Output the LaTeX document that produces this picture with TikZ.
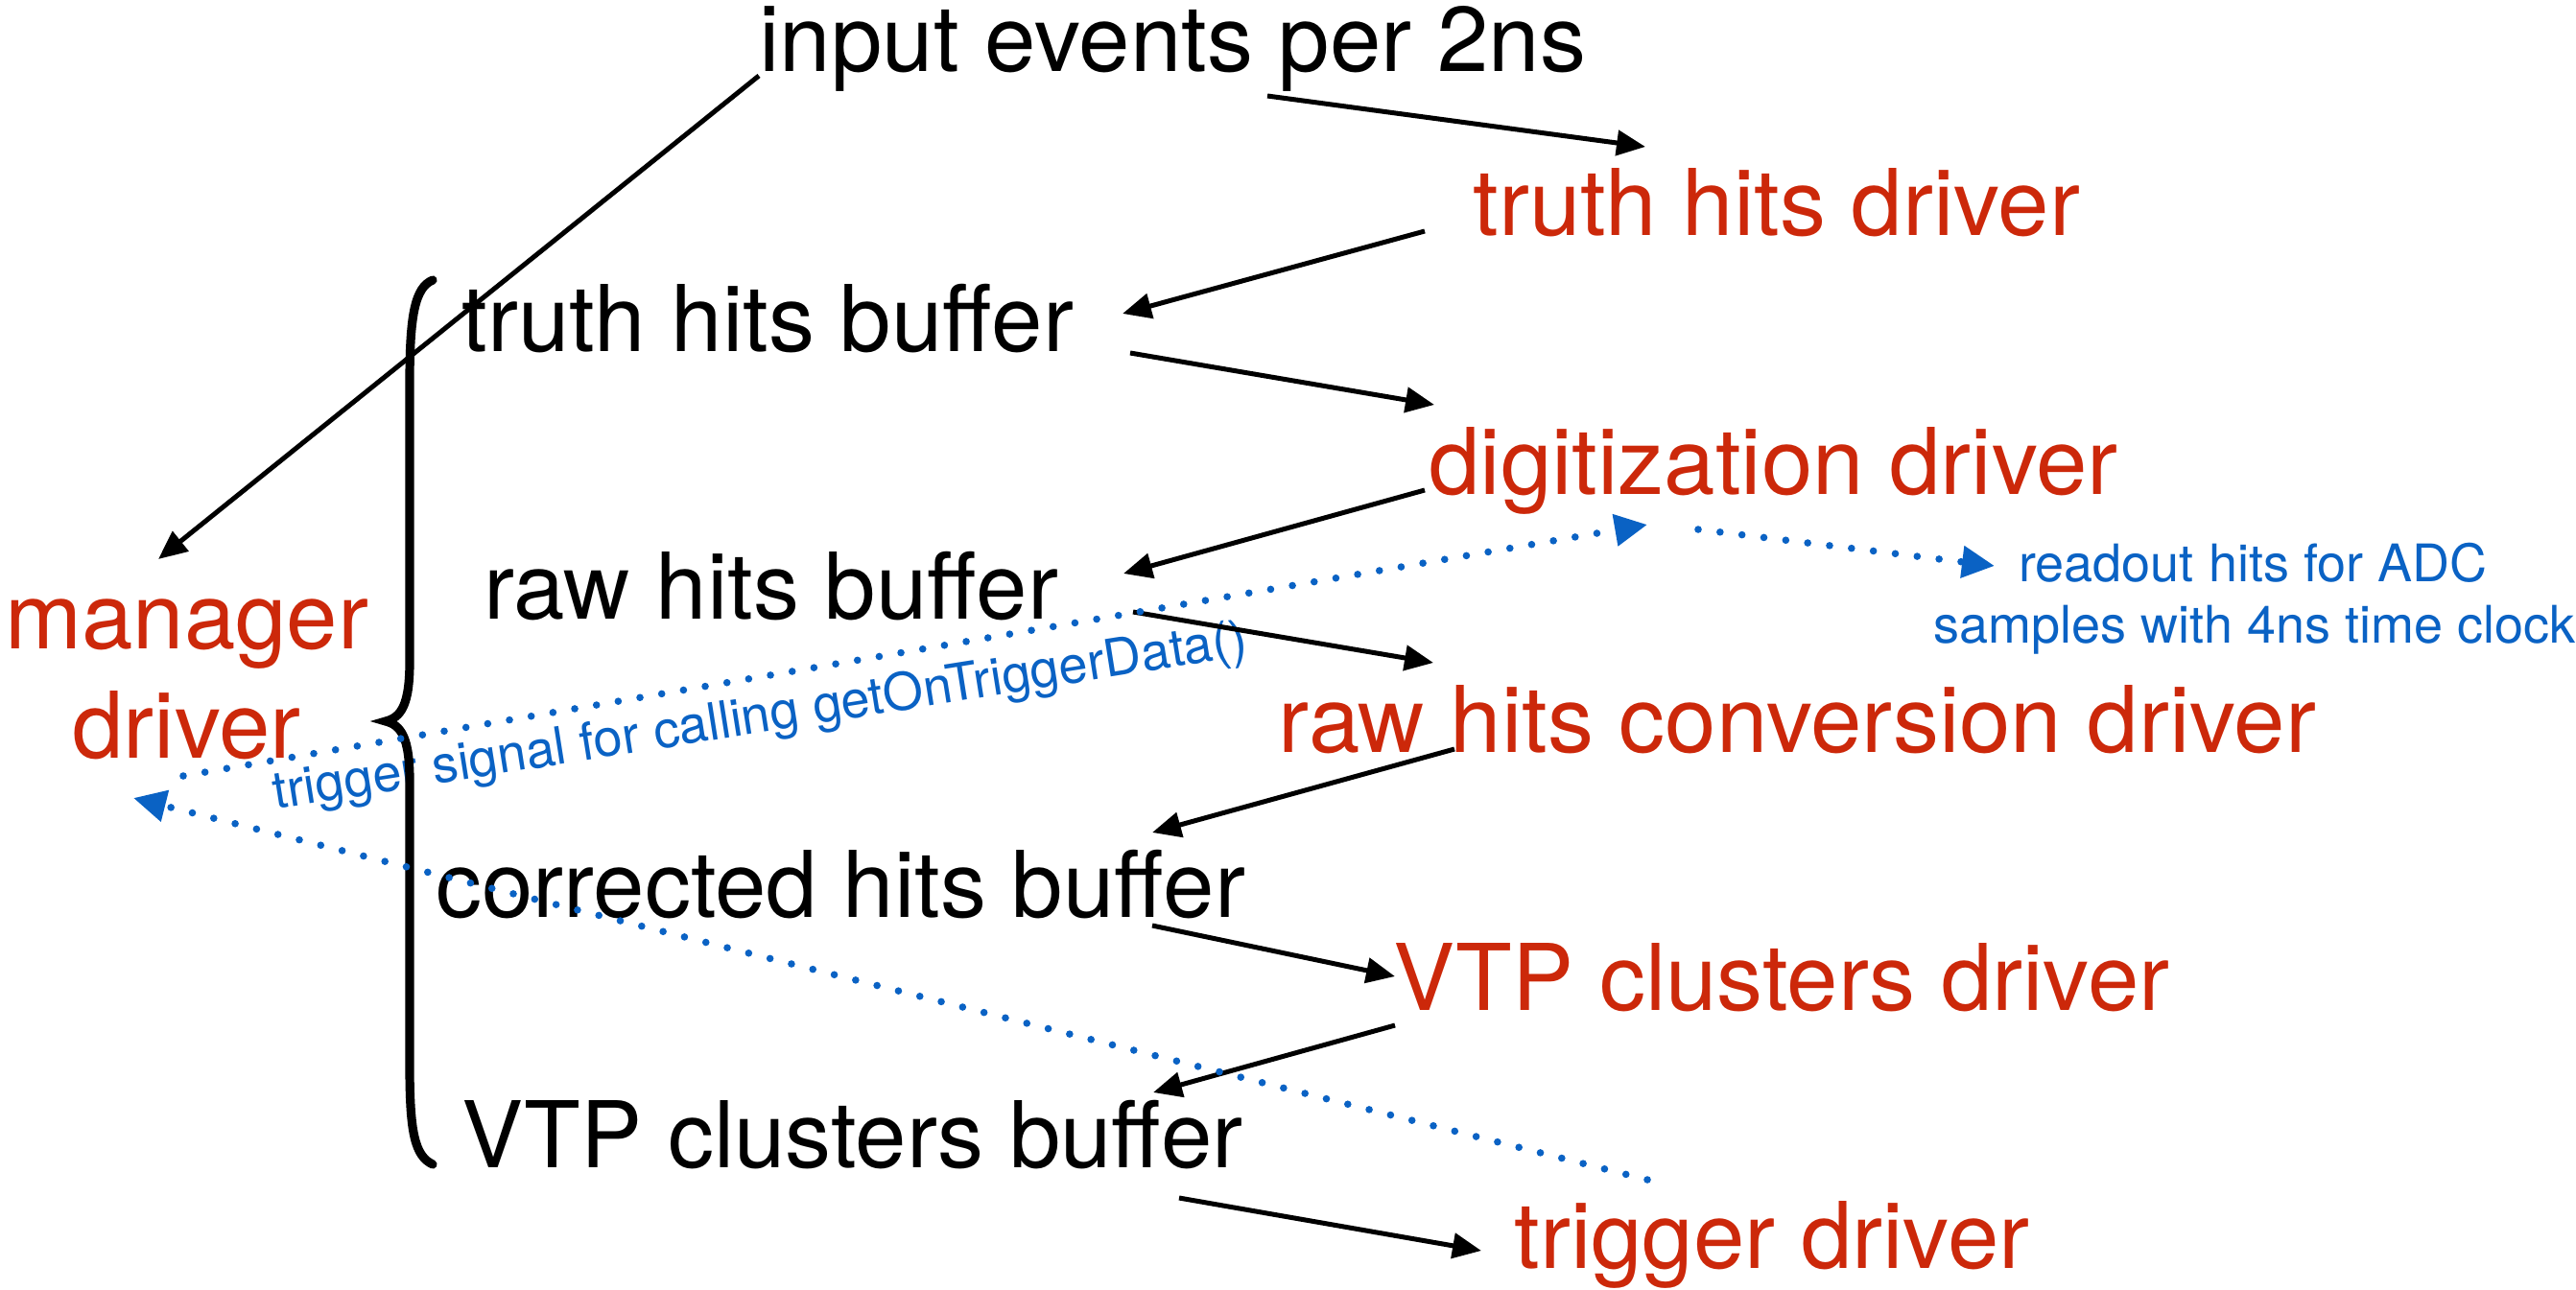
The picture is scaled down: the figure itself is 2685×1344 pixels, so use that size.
\documentclass[tikz,border=0pt]{standalone}
\usepackage{fontspec}
\setmainfont{TeX Gyre Heros}
\usetikzlibrary{arrows.meta}
\definecolor{dred}{RGB}{204,40,10}
\definecolor{dblue}{RGB}{10,98,196}
\tikzset{
  lbl/.style={inner sep=0pt, anchor=base west, font=\fontsize{48}{58}\selectfont},
  blk/.style={lbl, text=black},
  drv/.style={lbl, text=dred},
  note/.style={inner sep=0pt, anchor=base west, text=dblue, font=\fontsize{27}{32}\selectfont},
  arr/.style={line width=2.5pt, -{Triangle[length=15pt,width=13pt]}},
  sig/.style={dblue, line width=3.8pt, line cap=round, dash pattern=on 0pt off 11.5pt, -{Triangle[length=17pt,width=16pt]}},
  bracestyle/.style={line width=4.6pt, line cap=round}
}
\begin{document}
\begin{tikzpicture}[x=0.5pt,y=-0.5pt]
\useasboundingbox (0,0) rectangle (2685,1344);
% nodes
\node[blk] (in)  at (791,74)   {input events per 2ns};
\node[drv] (thd) at (1535,245) {truth hits driver};
\node[blk] (thb) at (481,366)  {truth hits buffer};
\node[drv] (dig) at (1489,515) {digitization driver};
\node[blk] (rhb) at (504,645)  {raw hits buffer};
\node[drv] (rhc) at (1332,784) {raw hits conversion driver};
\node[blk] (chb) at (454,956)  {corrected hits buffer};
\node[drv] (vcd) at (1452,1053){VTP clusters driver};
\node[blk] (vcb) at (481,1217) {VTP clusters buffer};
\node[drv] (trg) at (1578,1322){trigger driver};
\node[drv] (mgr) at (5,676)    {manager};
\node[drv] (mgrb) at (75,790)  {driver};
\node[note] (ro1) at (2104,606) {readout hits for ADC};
\node[note] (ro2) at (2015,670) {samples with 4ns time clock};
\node[note, rotate=9] (sigl) at (287,844) {trigger signal for calling getOnTriggerData()};
% brace
\draw[bracestyle] (451,292) .. controls (432,300) and (427,330) .. (427,400)
  -- (427,690) .. controls (427,735) and (418,748) .. (402,752)
  .. controls (418,756) and (427,769) .. (427,814)
  -- (427,1110) .. controls (427,1180) and (432,1205) .. (451,1214);
% black arrows
\draw[arr] ([shift={(0,5)}]in.base west) -- ([shift={(160,-93)}]mgr.base west);
\draw[arr] ([shift={(530,26)}]in.base west) -- ([shift={(180,-92)}]thd.base west);
\draw[arr] ([shift={(-50,-4)}]thd.base west) -- ([shift={(689,-39)}]thb.base west);
\draw[arr] ([shift={(697,2)}]thb.base west) -- ([shift={(6,-93)}]dig.base west);
\draw[arr] ([shift={(-4,-4)}]dig.base west) -- ([shift={(667,-47)}]rhb.base west);
\draw[arr] ([shift={(677,-7)}]rhb.base west) -- ([shift={(162,-93)}]rhc.base west);
\draw[arr] ([shift={(184,-3)}]rhc.base west) -- ([shift={(747,-88)}]chb.base west);
\draw[arr] ([shift={(747,9)}]chb.base west) -- ([shift={(2,-35)}]vcd.base west);
\draw[arr] ([shift={(2,16)}]vcd.base west) -- ([shift={(721,-78)}]vcb.base west);
\draw[arr] ([shift={(748,32)}]vcb.base west) -- ([shift={(-34,-18)}]trg.base west);
% blue dotted signals
\draw[sig] ([shift={(116,19)}]mgrb.base west) -- ([shift={(228,32)}]dig.base west);
\draw[sig] ([shift={(281,37)}]dig.base west) -- ([shift={(-25,-16)}]ro1.base west);
\draw[sig] ([shift={(139,-92)}]trg.base west) -- ([shift={(64,42)}]mgrb.base west);
\end{tikzpicture}
\end{document}
